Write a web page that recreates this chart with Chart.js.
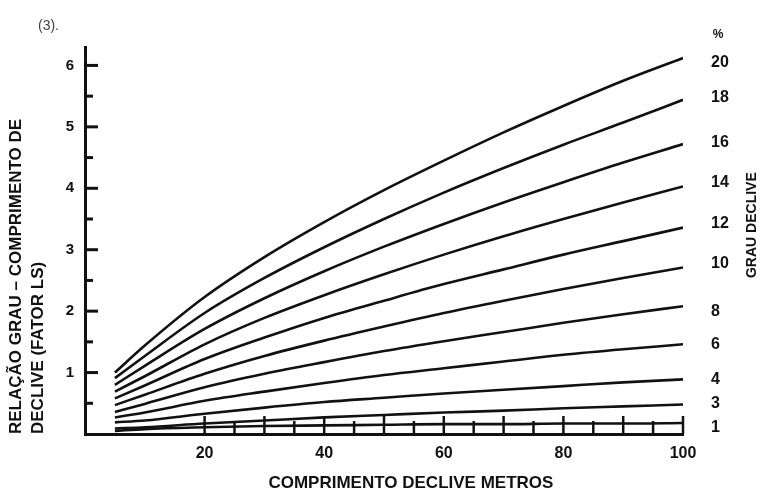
<!DOCTYPE html>
<html><head><meta charset="utf-8">
<script src="https://cdn.jsdelivr.net/npm/chart.js@4/dist/chart.umd.min.js"></script>
<style>html,body{margin:0;padding:0;background:#fff;}#wrap{width:761px;height:492px;}</style>
</head><body><div id="wrap"><canvas id="c" width="761" height="492"></canvas></div>
<script>
// slope length (m)
const lengths = [5, 10, 20, 30, 40, 50, 60, 70, 80, 90, 100];
// slope (%) labels, top to bottom
const slopes = ['20', '18', '16', '14', '12', '10', '8', '6', '4', '3', '1'];
// LS factor, one array per slope
const ls20 = [1.00, 1.44, 2.23, 2.88, 3.45, 3.97, 4.45, 4.91, 5.34, 5.75, 6.12];
const ls18 = [0.91, 1.27, 1.97, 2.54, 3.04, 3.50, 3.93, 4.33, 4.71, 5.07, 5.44];
const ls16 = [0.80, 1.11, 1.71, 2.21, 2.65, 3.05, 3.42, 3.77, 4.10, 4.42, 4.72];
const ls14 = [0.69, 0.94, 1.46, 1.89, 2.26, 2.60, 2.92, 3.22, 3.50, 3.77, 4.03];
const ls12 = [0.58, 0.79, 1.22, 1.57, 1.89, 2.17, 2.44, 2.68, 2.92, 3.14, 3.36];
const ls10 = [0.47, 0.64, 0.98, 1.27, 1.52, 1.75, 1.97, 2.17, 2.36, 2.54, 2.71];
const ls8  = [0.36, 0.49, 0.76, 0.98, 1.17, 1.35, 1.51, 1.66, 1.81, 1.95, 2.08];
const ls6  = [0.27, 0.35, 0.54, 0.69, 0.83, 0.96, 1.07, 1.18, 1.29, 1.38, 1.46];
const ls4  = [0.19, 0.22, 0.33, 0.43, 0.52, 0.59, 0.66, 0.72, 0.78, 0.84, 0.89];
const ls3  = [0.09, 0.11, 0.17, 0.22, 0.27, 0.31, 0.35, 0.38, 0.42, 0.45, 0.48];
const ls1  = [0.05, 0.08, 0.11, 0.13, 0.14, 0.15, 0.16, 0.16, 0.17, 0.17, 0.18];
const seriesList = [ls20, ls18, ls16, ls14, ls12, ls10, ls8, ls6, ls4, ls3, ls1];
// where each slope label sits on the right axis
const slopeLabelValues = [6.04, 5.47, 4.74, 4.09, 3.43, 2.78, 1.99, 1.45, 0.88, 0.50, 0.10];
// axis ticks
const xTickValues = [20, 40, 60, 80, 100];
const yTickValues = [1, 2, 3, 4, 5, 6];
const yInnerTicks = [0.5, 1, 1.5, 2, 2.5, 3, 3.5, 4, 4.5, 5, 5.5, 6];
const xInnerTicks = [20, 25, 30, 35, 40, 45, 50, 55, 60, 65, 70, 75, 80, 85, 90, 95, 100];

const FONT = "'Liberation Sans', Arial, Helvetica, sans-serif";

const datasets = seriesList.map((arr, i) => ({
  label: slopes[i] + '%',
  data: lengths.map((x, j) => ({ x: x, y: arr[j] })),
  borderColor: '#111',
  borderWidth: 2.6,
  pointRadius: 0,
  fill: false,
  cubicInterpolationMode: 'monotone',
  yAxisID: 'y'
}));

const extras = {
  id: 'extras',
  afterDatasetsDraw(chart) {
    const { ctx, scales: { x, y } } = chart;
    ctx.save();
    ctx.strokeStyle = '#111';
    ctx.lineWidth = 3;
    ctx.lineCap = 'butt';
    // inward ticks on the y axis
    yInnerTicks.forEach(v => {
      const py = y.getPixelForValue(v);
      const len = Number.isInteger(v) ? 13 : 8;
      ctx.beginPath(); ctx.moveTo(x.left, py); ctx.lineTo(x.left + len, py); ctx.stroke();
    });
    // inward ticks on the x axis
    ctx.lineWidth = 2.5;
    xInnerTicks.forEach(v => {
      const px = x.getPixelForValue(v);
      const len = v % 10 === 0 ? 18 : 13;
      ctx.beginPath(); ctx.moveTo(px, y.bottom); ctx.lineTo(px, y.bottom - len); ctx.stroke();
    });
    ctx.restore();
  },
  afterDraw(chart) {
    const { ctx, scales: { x, y } } = chart;
    ctx.save();
    ctx.fillStyle = '#111';
    ctx.textBaseline = 'middle';
    // x axis title
    ctx.font = 'bold 17px ' + FONT;
    ctx.textAlign = 'center';
    ctx.fillText('COMPRIMENTO DECLIVE METROS', x.getPixelForValue(54.5), 483);
    // right axis title, bottom-to-top
    ctx.save();
    ctx.translate(752, y.getPixelForValue(3.4));
    ctx.rotate(-Math.PI / 2);
    ctx.font = 'bold 14px ' + FONT;
    ctx.fillText('GRAU DECLIVE', 0, 0);
    ctx.restore();
    // percent sign
    ctx.font = 'bold 12px ' + FONT;
    ctx.fillText('%', 718, 35);
    // figure number
    ctx.fillStyle = '#444';
    ctx.font = '14px ' + FONT;
    ctx.textAlign = 'left';
    ctx.fillText('(3).', 38, 26);
    ctx.restore();
  }
};

new Chart(document.getElementById('c'), {
  type: 'line',
  data: { datasets },
  plugins: [extras],
  options: {
    responsive: false,
    devicePixelRatio: 1,
    animation: false,
    layout: { padding: { top: 47, left: 0, right: 0, bottom: 0 } },
    plugins: { legend: { display: false }, tooltip: { enabled: false }, title: { display: false } },
    scales: {
      x: {
        type: 'linear', min: 0, max: 100,
        grid: { display: false, drawTicks: false },
        border: { display: true, color: '#111', width: 3 },
        afterBuildTicks: s => { s.ticks = xTickValues.map(v => ({ value: v })); },
        afterFit: s => { s.height = 58; },
        ticks: { color: '#111', padding: 10, font: { family: FONT, size: 16, weight: 'bold' } }
      },
      y: {
        type: 'linear', position: 'left', min: 0, max: 6.3,
        grid: { display: false, drawTicks: false },
        border: { display: true, color: '#111', width: 3 },
        afterBuildTicks: s => { s.ticks = yTickValues.map(v => ({ value: v })); },
        afterFit: s => { s.width = 85; },
        ticks: { color: '#111', padding: 11, font: { family: FONT, size: 15, weight: 'bold' } },
        title: {
          display: true, align: 'start',
          text: ['RELAÇÃO GRAU – COMPRIMENTO DE', 'DECLIVE (FATOR LS)'],
          color: '#111', padding: { top: 6, bottom: 0 },
          font: { family: FONT, size: 17, weight: 'bold', lineHeight: 1.25 }
        }
      },
      y2: {
        type: 'linear', position: 'right', min: 0, max: 6.3,
        grid: { display: false, drawTicks: false },
        border: { display: false },
        afterBuildTicks: s => { s.ticks = slopeLabelValues.map(v => ({ value: v })); },
        afterFit: s => { s.width = 78; },
        ticks: {
          color: '#111', padding: 28, autoSkip: false,
          font: { family: FONT, size: 16, weight: 'bold' },
          callback: (v, i) => slopes[i]
        }
      }
    }
  }
});
</script></body></html>
